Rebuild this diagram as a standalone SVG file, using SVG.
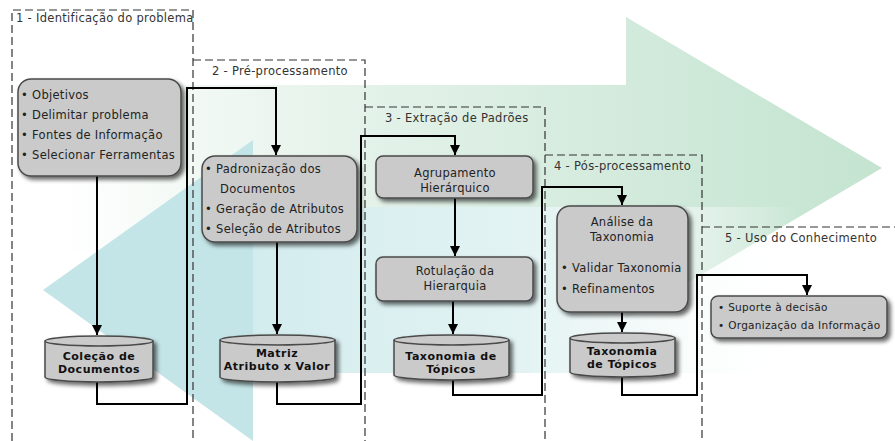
<svg xmlns="http://www.w3.org/2000/svg" width="895" height="441" viewBox="0 0 895 441">
<defs>
<linearGradient id="gGreen" gradientUnits="userSpaceOnUse" x1="60" y1="0" x2="882" y2="0">
<stop offset="0" stop-color="#ffffff"/>
<stop offset="0.3" stop-color="#e8f4ec"/>
<stop offset="0.7" stop-color="#d2eadc"/>
<stop offset="1" stop-color="#c4e4d0"/>
</linearGradient>
<linearGradient id="gTeal" gradientUnits="userSpaceOnUse" x1="253" y1="0" x2="800" y2="0">
<stop offset="0" stop-color="#d3ecee" stop-opacity="1"/>
<stop offset="0.5" stop-color="#e3f3f3" stop-opacity="1"/>
<stop offset="0.75" stop-color="#f2f9f8" stop-opacity="0.7"/>
<stop offset="1" stop-color="#ffffff" stop-opacity="0"/>
</linearGradient>
<filter id="sh" x="-10%" y="-10%" width="130%" height="140%">
<feDropShadow dx="3" dy="3" stdDeviation="2" flood-color="#000" flood-opacity="0.6"/>
</filter>
<marker id="ah" viewBox="0 0 10 10" refX="10" refY="5" markerWidth="10" markerHeight="10" markerUnits="userSpaceOnUse" orient="auto">
<path d="M0,0 L10,5 L0,10 Z" fill="#000"/>
</marker>
<style>
.t{font-family:"DejaVu Sans","Verdana",sans-serif;font-size:11.5px;letter-spacing:0.3px;fill:#222}
.s{font-family:"DejaVu Sans","Verdana",sans-serif;font-size:10.5px;letter-spacing:0.3px;fill:#222}
.st{font-family:"DejaVu Sans","Verdana",sans-serif;font-size:11.5px;letter-spacing:0.3px;fill:#333}
.b{font-family:"DejaVu Sans","Verdana",sans-serif;font-size:11px;letter-spacing:0.5px;font-weight:bold;fill:#111;text-anchor:middle}
.c{text-anchor:middle}
.box{fill:#cacaca;stroke:#4a4a4a;stroke-width:1.5;filter:url(#sh)}
.dash{fill:none;stroke:#333;stroke-width:1.2;stroke-dasharray:8 4}
.con{fill:none;stroke:#000;stroke-width:2}
</style>
</defs>

<g id="background">
<polygon points="60,85 626,85 626,17 882,168 626,319 626,251 60,251" fill="url(#gGreen)"/>
<polygon points="253,207 800,207 800,373 253,373" fill="url(#gTeal)"/>
<polygon points="43,290 253,140 253,441" fill="#c4e5e7"/>
</g>

<g id="phases">
<path class="dash" d="M12,441 V10 H193 V441"/>
<path class="dash" d="M193,60 H365 V441"/>
<path class="dash" d="M365,107 H545 V441"/>
<path class="dash" d="M545,155 H702 V441"/>
<path class="dash" d="M702,227 H895"/>
<text class="st" x="16" y="22">1 - Identificação do problema</text>
<text class="st" x="212" y="75">2 - Pré-processamento</text>
<text class="st" x="385" y="122">3 - Extração de Padrões</text>
<text class="st" x="554" y="170">4 - Pós-processamento</text>
<text class="st" x="725" y="242">5 - Uso do Conhecimento</text>
</g>

<g id="connectors">
<path class="con" d="M97,176 V335" marker-end="url(#ah)"/>
<path class="con" d="M97,382 V404 H187 V88 H276 V155" marker-end="url(#ah)"/>
<path class="con" d="M277,242 V334" marker-end="url(#ah)"/>
<path class="con" d="M277,382 V404 H361 V136 H455 V155" marker-end="url(#ah)"/>
<path class="con" d="M455,198 V256" marker-end="url(#ah)"/>
<path class="con" d="M453,301 V334" marker-end="url(#ah)"/>
<path class="con" d="M453,380 V395 H542 V187 H622 V205" marker-end="url(#ah)"/>
<path class="con" d="M622,312 V332" marker-end="url(#ah)"/>
<path class="con" d="M622,377 V395 H697 V275 H807 V295" marker-end="url(#ah)"/>
</g>

<g id="n-identificacao">
<rect class="box" x="18" y="79" width="163" height="97" rx="13"/>
<text class="t" x="21" y="99">• Objetivos</text>
<text class="t" x="21" y="119">• Delimitar problema</text>
<text class="t" x="21" y="139">• Fontes de Informação</text>
<text class="t" x="21" y="159">• Selecionar Ferramentas</text>
</g>

<g id="n-preproc">
<rect class="box" x="202" y="156" width="155" height="86" rx="13"/>
<text class="t" x="205" y="173">• Padronização dos</text>
<text class="t" x="220" y="193">Documentos</text>
<text class="t" x="205" y="213">• Geração de Atributos</text>
<text class="t" x="205" y="233">• Seleção de Atributos</text>
</g>

<g id="n-agrupamento">
<rect class="box" x="376" y="156" width="157" height="42" rx="7"/>
<text class="t c" x="455" y="177">Agrupamento</text>
<text class="t c" x="455" y="192">Hierárquico</text>
</g>

<g id="n-rotulacao">
<rect class="box" x="376" y="257" width="157" height="44" rx="7"/>
<text class="t c" x="455" y="275">Rotulação da</text>
<text class="t c" x="455" y="290">Hierarquia</text>
</g>

<g id="n-analise">
<rect class="box" x="557" y="206" width="131" height="106" rx="13"/>
<text class="t c" x="622" y="226">Análise da</text>
<text class="t c" x="622" y="241">Taxonomia</text>
<text class="t" x="561" y="272">• Validar Taxonomia</text>
<text class="t" x="561" y="293">• Refinamentos</text>
</g>

<g id="n-uso">
<rect class="box" x="711" y="296" width="176" height="42" rx="7"/>
<text class="s" x="718" y="311">• Suporte à decisão</text>
<text class="s" x="718" y="329">• Organização da Informação</text>
</g>

<g id="c-colecao">
<path class="box" d="M45,341 A54,5 0 0 1 153,341 V377 A54,5 0 0 1 45,377 Z"/>
<path d="M45,341 A54,5 0 0 0 153,341" fill="none" stroke="#4a4a4a" stroke-width="1.5"/>
<text class="b" x="99" y="360">Coleção de</text>
<text class="b" x="99" y="373">Documentos</text>
</g>

<g id="c-matriz">
<path class="box" d="M220,340 A57.5,5 0 0 1 335,340 V377 A57.5,5 0 0 1 220,377 Z"/>
<path d="M220,340 A57.5,5 0 0 0 335,340" fill="none" stroke="#4a4a4a" stroke-width="1.5"/>
<text class="b" x="277" y="357">Matriz</text>
<text class="b" x="277" y="370">Atributo x Valor</text>
</g>

<g id="c-taxonomia1">
<path class="box" d="M394,340 A57.5,5 0 0 1 509,340 V375 A57.5,5 0 0 1 394,375 Z"/>
<path d="M394,340 A57.5,5 0 0 0 509,340" fill="none" stroke="#4a4a4a" stroke-width="1.5"/>
<text class="b" x="451" y="360">Taxonomia de</text>
<text class="b" x="451" y="373">Tópicos</text>
</g>

<g id="c-taxonomia2">
<path class="box" d="M570,338 A52.5,5 0 0 1 675,338 V372 A52.5,5 0 0 1 570,372 Z"/>
<path d="M570,338 A52.5,5 0 0 0 675,338" fill="none" stroke="#4a4a4a" stroke-width="1.5"/>
<text class="b" x="622" y="355">Taxonomia</text>
<text class="b" x="622" y="368">de Tópicos</text>
</g>
</svg>
